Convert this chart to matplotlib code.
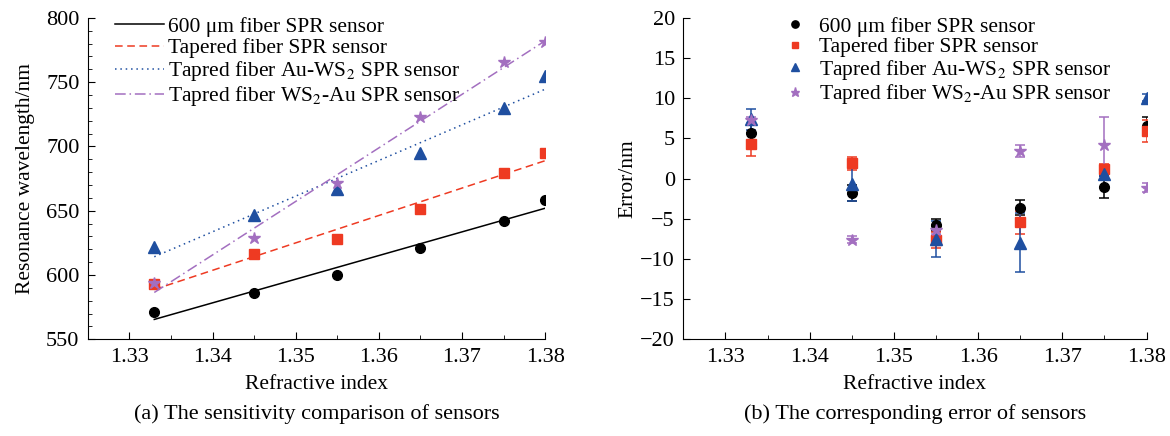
import numpy as np
import matplotlib
matplotlib.use('Agg')
import matplotlib.pyplot as plt
from matplotlib.ticker import MultipleLocator

plt.rcParams['font.family'] = ['Liberation Serif', 'DejaVu Serif']
plt.rcParams['mathtext.fontset'] = 'stix'

# refractive index of the test solutions
ri = [1.333, 1.345, 1.355, 1.365, 1.375, 1.38]
ri_ticks = [1.33, 1.34, 1.35, 1.36, 1.37, 1.38]

labels = ['600 μm fiber SPR sensor',
          'Tapered fiber SPR sensor',
          r'Tapred fiber Au-WS$_2$ SPR sensor',
          r'Tapred fiber WS$_2$-Au SPR sensor']

# resonance wavelength (nm)
wl_600um = [571.1, 585.6, 600.1, 620.8, 641.7, 658.4]
wl_tapered = [592.8, 616.3, 628.0, 651.5, 679.4, 694.6]
wl_au_ws2 = [621.5, 646.8, 667.2, 694.9, 730.0, 754.5]
wl_ws2_au = [593.6, 629.0, 671.9, 723.0, 765.6, 780.9]

# fitting error (nm) and spread
err_600um = [5.66, -1.82, -5.78, -3.63, -1.03, 6.57]
sd_600um = [1.0, 1.0, 0.8, 0.9, 1.4, 1.05]
err_tapered = [4.26, 1.9, -7.6, -5.45, 1.16, 5.9]
sd_tapered = [1.4, 0.8, 1.0, 1.45, 0.65, 1.4]
err_au_ws2 = [7.36, -0.7, -7.52, -7.97, 0.6, 10.08]
sd_au_ws2 = [1.3, 2.1, 2.2, 3.7, 0.3, 0.4]
err_ws2_au = [7.3, -7.6, -6.4, 3.43, 4.17, -1.12]
sd_ws2_au = [0.4, 0.4, 0.5, 0.75, 3.5, 0.6]

colors = ['black', '#ee3a22', '#1f4fa0', '#a36fc0']
markers = ['o', 's', '^', '*']
msizes = [7, 6.5, 8, 9]
styles = ['-', (0, (5, 3)), (0, (1, 2.5)), (0, (7, 2.5, 1, 2.5))]

fig = plt.figure(figsize=(11.7, 4.36), dpi=100)
ax1 = fig.add_axes([0.075, 0.222, 0.391, 0.737])
ax2 = fig.add_axes([0.584, 0.222, 0.396, 0.737])

x = np.array(ri)

# left: resonance wavelength with linear fits
series = [wl_600um, wl_tapered, wl_au_ws2, wl_ws2_au]
for y, c, m, ms, ls, lab in zip(series, colors, markers, msizes, styles, labels):
    k, b = np.polyfit(x, y, 1)
    ax1.plot(x, y, linestyle='none', marker=m, color=c, markersize=ms)
    ax1.plot([x[0], x[-1]], [k * x[0] + b, k * x[-1] + b], linestyle=ls,
             color=c, linewidth=1.1, label=lab)

ax1.set_xlim(1.325, 1.38)
ax1.set_ylim(550, 800)
ax1.set_xticks(ri_ticks)
ax1.set_xticklabels([f'{v:.2f}' for v in ri_ticks])
ax1.xaxis.set_minor_locator(MultipleLocator(0.005))
ax1.yaxis.set_major_locator(MultipleLocator(50))
ax1.yaxis.set_minor_locator(MultipleLocator(10))
ax1.set_xlabel('Refractive index', fontsize=15.5, labelpad=6)
ax1.set_ylabel('Resonance wavelength/nm', fontsize=15.5, labelpad=8)
ax1.legend(loc='upper left', frameon=False, fontsize=15.5, handlelength=2.3,
           handletextpad=0.2, labelspacing=0.05, borderaxespad=0.0,
           bbox_to_anchor=(0.04, 1.03))
fig.text(0.075 + 0.391 / 2, 0.05, '(a) The sensitivity comparison of sensors',
         ha='center', va='center', fontsize=16)

# right: error of each sensor
errs = [err_600um, err_tapered, err_au_ws2, err_ws2_au]
sds = [sd_600um, sd_tapered, sd_au_ws2, sd_ws2_au]
for y, s, c, m, ms, lab in zip(errs, sds, colors, markers, msizes, labels):
    ax2.errorbar(x, y, yerr=s, fmt=m, color=c, markersize=ms, capsize=3.5,
                 elinewidth=1.1, capthick=1.1, label=lab)

ax2.set_xlim(1.325, 1.38)
ax2.set_ylim(-20, 20)
ax2.set_xticks(ri_ticks)
ax2.set_xticklabels([f'{v:.2f}' for v in ri_ticks])
ax2.xaxis.set_minor_locator(MultipleLocator(0.005))
ax2.set_yticks(range(-20, 21, 5))
ax2.set_yticklabels([str(v).replace('-', '\u2212') for v in range(-20, 21, 5)])
ax2.set_xlabel('Refractive index', fontsize=15.5, labelpad=6)
ax2.set_ylabel('Error/nm', fontsize=15.5, labelpad=2)
handles, labs = ax2.get_legend_handles_labels()
handles = [h[0] for h in handles]
ax2.legend(handles, labs, loc='upper left', frameon=False, fontsize=15.5,
           handlelength=1.0, handletextpad=0.6, labelspacing=0.02,
           borderaxespad=0.0, bbox_to_anchor=(0.2, 1.03), markerscale=0.75)
fig.text(0.584 + 0.396 / 2, 0.05, '(b) The corresponding error of sensors',
         ha='center', va='center', fontsize=16)

for ax in (ax1, ax2):
    ax.spines['top'].set_visible(False)
    ax.spines['right'].set_visible(False)
    ax.tick_params(which='both', direction='in', labelsize=16)
    ax.tick_params(which='major', length=5, pad=6)
    ax.tick_params(which='minor', length=3)

fig.savefig('out.png', dpi=100)
